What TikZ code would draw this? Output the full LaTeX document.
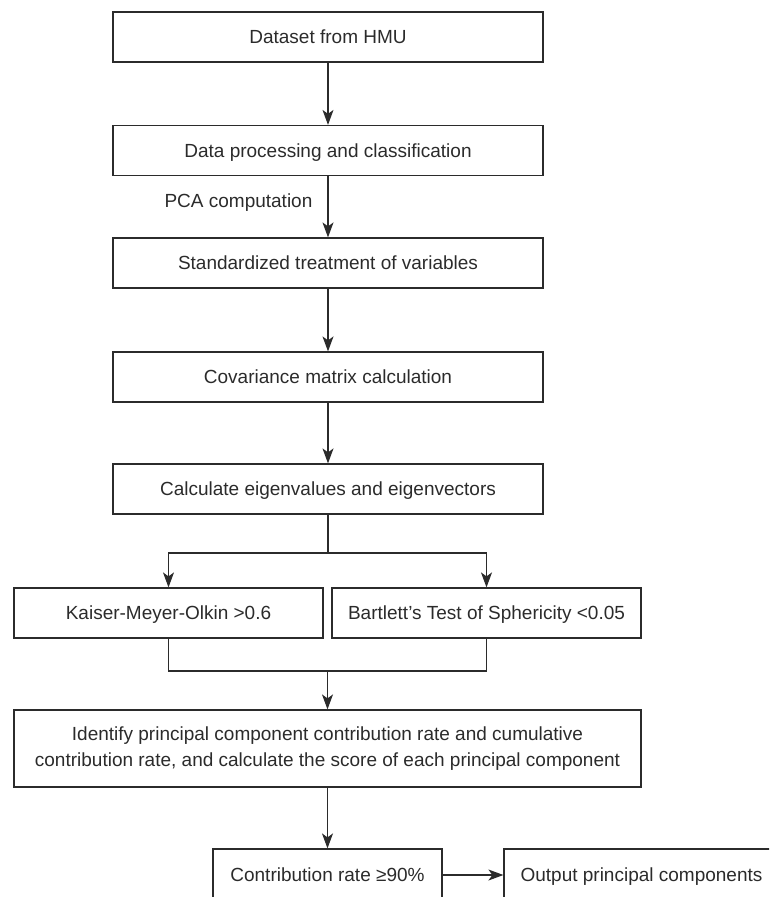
\documentclass[tikz,border=0pt]{standalone}
\usepackage{fontspec}
\setmainfont{Liberation Sans}
\usepackage{tikz}
\usetikzlibrary{arrows.meta,positioning}
\definecolor{ink}{HTML}{2B2B2B}
\newcommand\MidX{328}
\newcommand\MainW{430pt}
\newcommand\SideW{309pt}
\tikzset{
  block/.style={
    shape = rectangle,
    draw = ink,
    line width = 1.2pt,
    inner sep = 0pt,
    text = ink
  },
  mainbox/.style={
    block,
    minimum width = \MainW,
    minimum height = 50pt,
    text height = 13.6pt,
    text depth = 0pt
  },
  sidebox/.style={
    block,
    minimum width = \SideW,
    minimum height = 50pt,
    text height = 13.6pt,
    text depth = 0pt
  },
  flow/.style={
    draw = ink,
    line width = 1.2pt,
    -{Stealth[length=15pt, width=11pt, inset=4pt]}
  },
  wire/.style={
    draw = ink,
    line width = 1.2pt
  }
}

\begin{document}
\begin{tikzpicture}[x=1pt, y=-1pt, font=\fontsize{19}{26}\selectfont]
    \useasboundingbox (0,0) rectangle (769,897);
    \clip (0,0) rectangle (769,897);

    \node[mainbox] (data) at (\MidX,37) {Dataset from HMU};
    \node[mainbox] (proc) at (\MidX,150.5) {Data processing and classification};
    \node[mainbox] (std) at (\MidX,263) {Standardized treatment of variables};
    \node[mainbox] (cov) at (\MidX,377) {Covariance matrix calculation};
    \node[mainbox] (eig) at (\MidX,489) {Calculate eigenvalues and eigenvectors};

    \node[sidebox] (kmo) at (168.5,613) {Kaiser-Meyer-Olkin >0.6};
    \node[sidebox] (bts) at (486.5,613) {Bartlett’s Test of Sphericity <0.05};

    \node[block, minimum width=627pt, minimum height=77pt, align=center] (pcr) at (327.5,748.5)
        {Identify principal component contribution rate and cumulative\\
         contribution rate, and calculate the score of each principal component};

    \node[block, minimum width=229pt, minimum height=52pt, text height=13.6pt, text depth=0pt] (rate) at (327.5,875) {Contribution rate ≥90\%};
    \node[block, minimum width=275pt, minimum height=52pt, text height=13.6pt, text depth=0pt] (out) at (641.5,875) {Output principal components};

    \coordinate (split) at (\MidX,553);
    \coordinate (merge) at (327.5,671);

    \draw[flow] (data) -- (proc);
    \draw[flow] (proc) -- node[pos=0.43, anchor=east, xshift=-15pt, inner sep=0pt, text=ink] (pca) {PCA computation} (std);
    \draw[flow] (std) -- (cov);
    \draw[flow] (cov) -- (eig);

    \draw[wire] (eig) -- (split);
    \draw[flow] (split) -| (kmo);
    \draw[flow] (split) -| (bts);

    \draw[wire] (kmo) |- (merge) -| (bts);
    \draw[flow] (merge) -- (pcr);

    \draw[flow] (pcr) -- (rate);
    \draw[flow] (rate) -- (out);
\end{tikzpicture}
\end{document}
